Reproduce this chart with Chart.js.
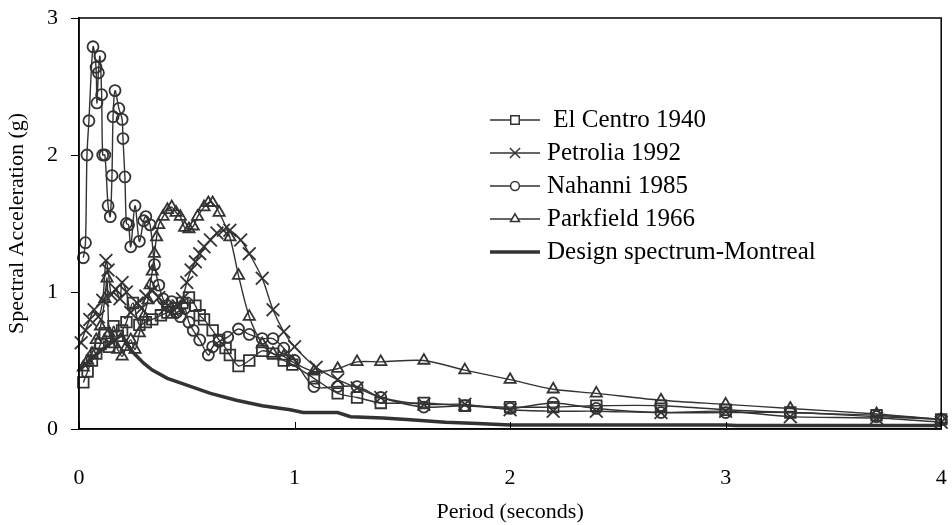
<!DOCTYPE html>
<html>
<head>
<meta charset="utf-8">
<script src="https://cdn.jsdelivr.net/npm/chart.js@4.4.1/dist/chart.umd.min.js"></script>
<style>
  html, body { margin: 0; padding: 0; background: #fff; }
  #wrap { width: 952px; height: 525px; }
</style>
</head>
<body>
<div id="wrap"><canvas id="chart" width="952" height="525"></canvas></div>
<script>
// Spectral acceleration (g) vs period (s)
const elCentroT = [0.02, 0.04, 0.06, 0.08, 0.1, 0.12, 0.14, 0.16, 0.18, 0.2, 0.22, 0.25, 0.28, 0.31, 0.34, 0.38, 0.41, 0.45, 0.48, 0.51, 0.54, 0.56, 0.58, 0.62, 0.65, 0.68, 0.7, 0.74, 0.79, 0.85, 0.9, 0.95, 0.99, 1.09, 1.2, 1.29, 1.4, 1.6, 1.79, 2.0, 2.2, 2.4, 2.7, 3.0, 3.3, 3.7, 4.0];
const elCentroSa = [0.34, 0.42, 0.5, 0.55, 0.62, 0.7, 0.6, 0.75, 0.68, 0.72, 0.78, 0.92, 0.76, 0.78, 0.8, 0.83, 0.85, 0.88, 0.92, 0.96, 0.9, 0.83, 0.8, 0.72, 0.65, 0.59, 0.54, 0.46, 0.5, 0.57, 0.55, 0.5, 0.47, 0.37, 0.26, 0.23, 0.19, 0.19, 0.17, 0.16, 0.16, 0.17, 0.17, 0.14, 0.12, 0.1, 0.07];

const petroliaT = [0.01, 0.03, 0.05, 0.07, 0.09, 0.11, 0.125, 0.135, 0.15, 0.17, 0.19, 0.2, 0.22, 0.24, 0.27, 0.29, 0.31, 0.34, 0.37, 0.4, 0.43, 0.46, 0.48, 0.5, 0.52, 0.54, 0.56, 0.58, 0.61, 0.64, 0.67, 0.7, 0.75, 0.79, 0.85, 0.9, 0.95, 1.0, 1.1, 1.2, 1.29, 1.4, 1.6, 1.79, 2.0, 2.2, 2.4, 2.7, 3.0, 3.3, 3.7, 4.0];
const petroliaSa = [0.63, 0.72, 0.8, 0.87, 0.82, 0.94, 1.23, 1.16, 0.98, 1.02, 0.95, 1.07, 1.0, 0.85, 0.92, 0.88, 0.97, 1.01, 0.96, 0.88, 0.85, 0.9, 0.95, 1.07, 1.16, 1.22, 1.28, 1.33, 1.38, 1.43, 1.45, 1.45, 1.38, 1.28, 1.1, 0.87, 0.71, 0.6, 0.45, 0.36, 0.3, 0.23, 0.18, 0.18, 0.14, 0.13, 0.13, 0.12, 0.13, 0.09, 0.08, 0.05];

const nahanniT = [0.02, 0.03, 0.037, 0.046, 0.065, 0.079, 0.083, 0.09, 0.097, 0.105, 0.11, 0.12, 0.135, 0.145, 0.153, 0.158, 0.167, 0.185, 0.2, 0.204, 0.213, 0.22, 0.23, 0.24, 0.26, 0.28, 0.3, 0.31, 0.33, 0.35, 0.37, 0.39, 0.41, 0.43, 0.45, 0.47, 0.49, 0.51, 0.53, 0.56, 0.6, 0.62, 0.65, 0.69, 0.74, 0.79, 0.85, 0.9, 0.95, 1.0, 1.09, 1.2, 1.29, 1.4, 1.6, 1.79, 2.0, 2.2, 2.4, 2.7, 3.0, 3.3, 3.7, 4.0];
const nahanniSa = [1.25, 1.36, 2.0, 2.25, 2.79, 2.64, 2.38, 2.6, 2.72, 2.44, 2.0, 2.0, 1.63, 1.55, 1.85, 2.28, 2.47, 2.34, 2.26, 2.12, 1.84, 1.5, 1.49, 1.33, 1.63, 1.37, 1.52, 1.55, 1.49, 1.2, 1.05, 0.95, 0.9, 0.93, 0.85, 0.82, 0.88, 0.78, 0.72, 0.65, 0.54, 0.6, 0.64, 0.67, 0.73, 0.69, 0.66, 0.66, 0.59, 0.5, 0.31, 0.31, 0.31, 0.23, 0.16, 0.17, 0.15, 0.19, 0.15, 0.12, 0.12, 0.12, 0.09, 0.07];

const parkfieldT = [0.02, 0.04, 0.06, 0.08, 0.1, 0.12, 0.13, 0.14, 0.16, 0.18, 0.2, 0.22, 0.24, 0.26, 0.28, 0.3, 0.32, 0.33, 0.34, 0.35, 0.36, 0.37, 0.39, 0.41, 0.43, 0.45, 0.47, 0.49, 0.51, 0.53, 0.55, 0.58, 0.6, 0.62, 0.65, 0.7, 0.74, 0.79, 0.85, 0.9, 0.95, 0.99, 1.09, 1.2, 1.29, 1.4, 1.6, 1.79, 2.0, 2.2, 2.4, 2.7, 3.0, 3.3, 3.7, 4.0];
const parkfieldSa = [0.45, 0.5, 0.55, 0.65, 0.75, 0.95, 1.1, 0.7, 0.62, 0.58, 0.53, 0.6, 0.65, 0.58, 0.7, 0.82, 0.94, 1.05, 1.15, 1.28, 1.4, 1.49, 1.55, 1.6, 1.62, 1.58, 1.55, 1.47, 1.46, 1.48, 1.55, 1.62, 1.65, 1.65, 1.58, 1.4, 1.12, 0.82, 0.62, 0.55, 0.53, 0.49, 0.42, 0.44, 0.49, 0.49, 0.5, 0.43, 0.36, 0.29, 0.26, 0.21, 0.18, 0.15, 0.11, 0.07];

const designT = [0.0, 0.05, 0.1, 0.15, 0.2, 0.22, 0.25, 0.3, 0.34, 0.41, 0.5, 0.61, 0.73, 0.85, 0.98, 1.04, 1.2, 1.26, 1.41, 1.52, 1.7, 1.85, 2.0, 3.0, 3.05, 4.0];
const designSa = [0.43, 0.5, 0.57, 0.63, 0.69, 0.62, 0.56, 0.48, 0.43, 0.37, 0.32, 0.26, 0.21, 0.17, 0.14, 0.12, 0.12, 0.09, 0.08, 0.07, 0.05, 0.04, 0.03, 0.03, 0.025, 0.025];

const xTicks = [0, 1, 2, 3, 4];
const yTicks = [0, 1, 2, 3];

const ink = "#333";
const font = "'Liberation Serif', 'Times New Roman', serif";

function pts(t, sa) {
  return t.map((x, i) => ({ x, y: sa[i] }));
}

function series(label, t, sa, style, radius) {
  return {
    label,
    data: pts(t, sa),
    borderColor: ink,
    borderWidth: 1.4,
    pointStyle: style,
    pointRadius: radius,
    pointBorderColor: ink,
    pointBorderWidth: 1.8,
    pointBackgroundColor: "rgba(0,0,0,0)",
    backgroundColor: "rgba(0,0,0,0)",
    tension: 0.3,
    clip: false,
  };
}

// legend drawn inside the plot, line sample with marker in the middle
const legendBox = {
  id: "legendBox",
  afterDraw(chart) {
    const ctx = chart.ctx;
    const x0 = 490, x1 = 540, y0 = 120, step = 33;
    ctx.save();
    chart.data.datasets.forEach((ds, i) => {
      const y = y0 + i * step;
      ctx.strokeStyle = ink;
      ctx.lineWidth = ds.pointRadius ? 1.4 : 3.5;
      ctx.beginPath();
      ctx.moveTo(x0, y);
      ctx.lineTo(x1, y);
      ctx.stroke();
      if (ds.pointRadius) {
        ctx.lineWidth = 1.5;
        ctx.fillStyle = "#fff";
        Chart.helpers.drawPoint(ctx, { pointStyle: ds.pointStyle, radius: ds.pointRadius * 0.8, rotation: 0, borderWidth: 1.5 }, (x0 + x1) / 2, y);
      }
      ctx.fillStyle = "#000";
      ctx.font = "25px " + font;
      ctx.textBaseline = "middle";
      ctx.fillText(ds.label, 547, y);
    });
    ctx.restore();
  },
};

// plot frame and the small inward ticks on the period axis
const frame = {
  id: "frame",
  afterDraw(chart) {
    const { ctx, chartArea: a, scales } = chart;
    ctx.save();
    ctx.strokeStyle = "#000";
    ctx.lineWidth = 1.5;
    ctx.strokeRect(a.left, a.top, a.right - a.left, a.bottom - a.top);
    ctx.lineWidth = 1;
    xTicks.forEach((v) => {
      const px = Math.round(scales.x.getPixelForValue(v)) + 0.5;
      ctx.beginPath();
      ctx.moveTo(px, a.bottom);
      ctx.lineTo(px, a.bottom - 7);
      ctx.stroke();
    });
    ctx.restore();
  },
};

new Chart(document.getElementById("chart").getContext("2d"), {
  type: "line",
  data: {
    datasets: [
      series(" El Centro 1940", elCentroT, elCentroSa, "rect", 7.5),
      series("Petrolia 1992", petroliaT, petroliaSa, "crossRot", 9),
      series("Nahanni 1985", nahanniT, nahanniSa, "circle", 5.5),
      series("Parkfield 1966", parkfieldT, parkfieldSa, "triangle", 6.5),
      {
        label: "Design spectrum-Montreal",
        data: pts(designT, designSa),
        borderColor: ink,
        borderWidth: 3.5,
        pointRadius: 0,
        tension: 0,
        clip: false,
      },
    ],
  },
  options: {
    responsive: false,
    animation: false,
    devicePixelRatio: 1,
    layout: { padding: { top: 18, right: 10, left: 0, bottom: 0 } },
    plugins: { legend: { display: false }, tooltip: { enabled: false } },
    scales: {
      x: {
        type: "linear",
        min: 0,
        max: 4,
        afterBuildTicks: (s) => { s.ticks = xTicks.map((v) => ({ value: v })); },
        afterFit: (s) => { s.height = 96; s.paddingLeft = 0; s.paddingRight = 0; },
        ticks: { color: "#000", padding: 36, font: { family: font, size: 22 } },
        grid: { drawOnChartArea: false, drawTicks: false },
        border: { display: true, color: "#000", width: 1.5 },
        title: { display: true, text: "Period (seconds)", color: "#000", padding: { top: 0, bottom: 0 }, font: { family: font, size: 22 } },
      },
      y: {
        min: 0,
        max: 3,
        afterBuildTicks: (s) => { s.ticks = yTicks.map((v) => ({ value: v })); },
        afterFit: (s) => { s.width = 79; s.paddingTop = 0; s.paddingBottom = 0; },
        ticks: { color: "#000", padding: 13, font: { family: font, size: 22 } },
        grid: { drawOnChartArea: false, drawTicks: true, tickLength: 8, tickColor: "#000" },
        border: { display: true, color: "#000", width: 1.5 },
        title: { display: true, text: "Spectral Acceleration (g)", color: "#000", font: { family: font, size: 22 } },
      },
    },
  },
  plugins: [legendBox, frame],
});
</script>
</body>
</html>
